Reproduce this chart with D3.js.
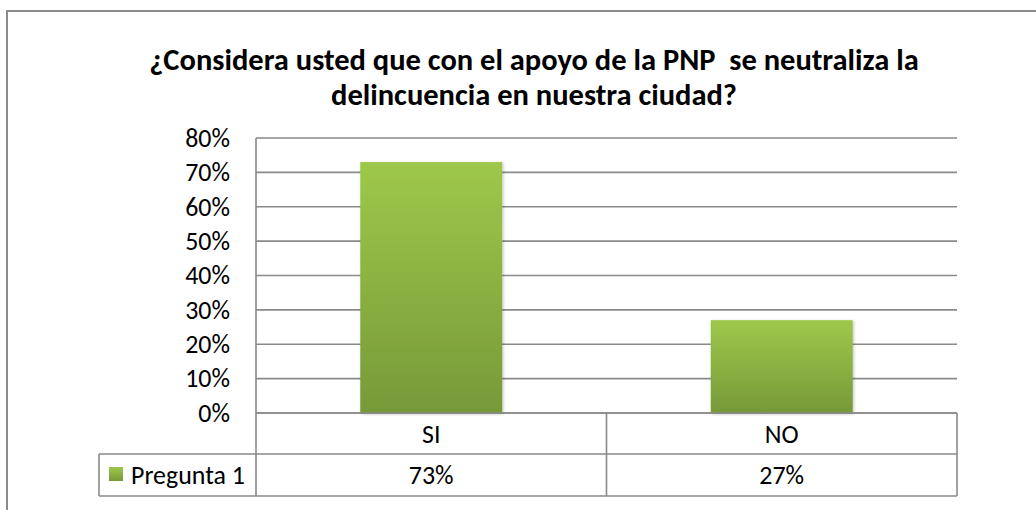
<!DOCTYPE html>
<html><head><meta charset="utf-8">
<script src="https://cdn.jsdelivr.net/npm/d3@7"></script>
<style>body{margin:0;background:#fff}svg{display:block}</style>
</head><body>
<svg id="c" width="1036" height="510"></svg>
<script>
const titleLines = ["¿Considera usted que con el apoyo de la PNP  se neutraliza la", "delincuencia en nuestra ciudad?"];
const categories = ["SI", "NO"];
const seriesName = "Pregunta 1";
const values = [0.73, 0.27];
const tickValues = [0, 0.1, 0.2, 0.3, 0.4, 0.5, 0.6, 0.7, 0.8];

const font = "Carlito, Lato, 'Liberation Sans', sans-serif";
const svg = d3.select("#c");
const grey = "#8a8a8a";

// outer frame
svg.append("rect").attr("x", 7).attr("y", 11).attr("width", 1100).attr("height", 600)
  .attr("fill", "#fff").attr("stroke", grey).attr("stroke-width", 2);

// title
const title = svg.append("g").attr("font-family", font).attr("font-weight", "bold").attr("fill", "#000");
const t1 = title.append("text").attr("x", 534).attr("y", 70).attr("text-anchor", "middle").style("white-space", "pre").attr("font-size", 20).text(titleLines[0]);
const tw = t1.node().getComputedTextLength();
const fs = 20 * 770 / tw;
t1.attr("font-size", fs);
title.append("text").attr("x", 534).attr("y", 105).attr("text-anchor", "middle").attr("font-size", fs).text(titleLines[1]);

// body font size fitted to the legend label width
const probe = svg.append("text").attr("font-family", font).attr("font-size", 20).text(seriesName);
const bfs = 20 * 114 / probe.node().getComputedTextLength();
probe.remove();

const pLeft = 256, pRight = 957, pTop = 138, pZero = 413;
const y = d3.scaleLinear().domain([0, 0.8]).range([pZero, pTop]);
const x = d3.scaleBand().domain(categories).range([pLeft, pRight]).paddingInner(0.595).paddingOuter(0.2975);

// gridlines
svg.append("g").selectAll("line").data(tickValues).join("line")
  .attr("x1", pLeft).attr("x2", pRight).attr("y1", d => y(d)).attr("y2", d => y(d))
  .attr("stroke", grey).attr("stroke-width", 1.6);

// y axis labels
const yAxis = d3.axisLeft(y).tickValues(tickValues).tickFormat(d3.format(".0%")).tickSize(0).tickPadding(26);
const ya = svg.append("g").attr("transform", `translate(${pLeft},0)`).call(yAxis);
ya.select(".domain").remove();
ya.attr("font-family", font).attr("font-size", bfs);
ya.selectAll("text").attr("fill", "#000");

// bars
const defs = svg.append("defs");
const grad = defs.append("linearGradient").attr("id", "g").attr("x1", 0).attr("x2", 0).attr("y1", 0).attr("y2", 1);
grad.append("stop").attr("offset", "0%").attr("stop-color", "#9ec84a");
grad.append("stop").attr("offset", "100%").attr("stop-color", "#779939");
const filt = defs.append("filter").attr("id", "sh").attr("x", "-10%").attr("y", "-10%").attr("width", "130%").attr("height", "130%");
filt.append("feDropShadow").attr("dx", 1).attr("dy", 1).attr("stdDeviation", 1.5).attr("flood-color", "#000").attr("flood-opacity", 0.25);

svg.append("g").selectAll("rect").data(values).join("rect")
  .attr("x", (d, i) => x(categories[i])).attr("width", x.bandwidth())
  .attr("y", d => y(d)).attr("height", d => pZero - y(d))
  .attr("fill", "url(#g)").attr("filter", "url(#sh)");

// data table
const row1 = 454, row2 = 496, legLeft = 99;
const tg = svg.append("g").attr("stroke", grey).attr("stroke-width", 1.6).attr("fill", "none");
tg.append("line").attr("x1", pLeft).attr("x2", pRight).attr("y1", pZero).attr("y2", pZero);
tg.append("line").attr("x1", legLeft).attr("x2", pRight).attr("y1", row1).attr("y2", row1);
tg.append("line").attr("x1", legLeft).attr("x2", pRight).attr("y1", row2).attr("y2", row2);
tg.append("line").attr("x1", legLeft).attr("x2", legLeft).attr("y1", row1).attr("y2", row2);
tg.append("line").attr("x1", pLeft).attr("x2", pLeft).attr("y1", pTop).attr("y2", row2);
tg.append("line").attr("x1", pRight).attr("x2", pRight).attr("y1", pZero).attr("y2", row2);
const mid = (pLeft + pRight) / 2;
tg.append("line").attr("x1", mid).attr("x2", mid).attr("y1", pZero).attr("y2", row2);

const tt = svg.append("g").attr("font-family", font).attr("font-size", bfs).attr("fill", "#000").attr("text-anchor", "middle");
tt.selectAll(".cat").data(categories).join("text").attr("class", "cat")
  .attr("x", d => x(d) + x.bandwidth() / 2).attr("y", (pZero + row1) / 2).attr("dy", "0.35em").text(d => d);
tt.selectAll(".val").data(values).join("text").attr("class", "val")
  .attr("x", (d, i) => x(categories[i]) + x.bandwidth() / 2).attr("y", (row1 + row2) / 2).attr("dy", "0.35em")
  .text(d => d3.format(".0%")(d));

// legend
svg.append("rect").attr("x", 109).attr("y", 467).attr("width", 14).attr("height", 14).attr("fill", "url(#g)");
svg.append("text").attr("x", 131).attr("y", (row1 + row2) / 2).attr("dy", "0.35em")
  .attr("font-family", font).attr("font-size", bfs).attr("fill", "#000").text(seriesName);
</script>
</body></html>
